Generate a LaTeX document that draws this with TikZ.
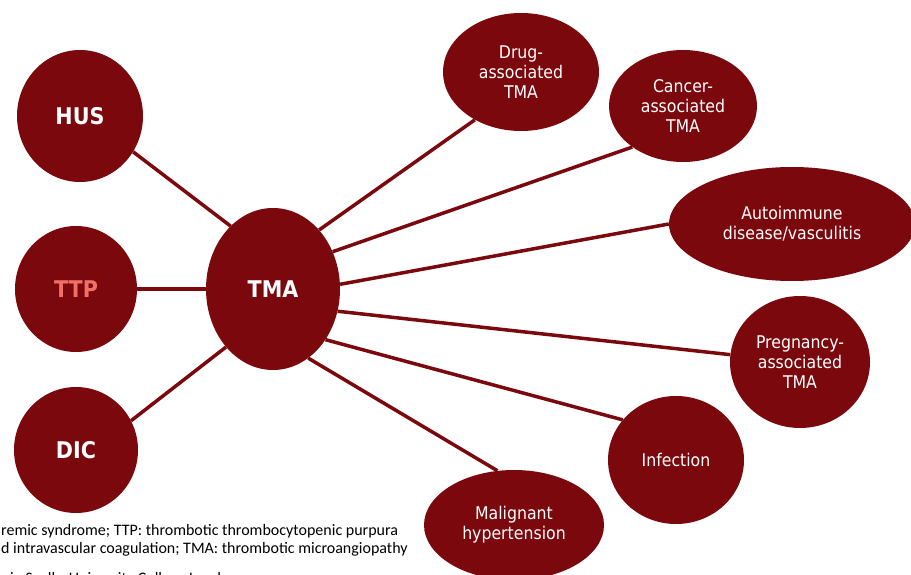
\documentclass[tikz,border=0pt]{standalone}
\usepackage{fontspec}
\setmainfont{DejaVu Sans Condensed}
\newfontfamily\notefont{Carlito}
\usetikzlibrary{shapes.geometric}
\definecolor{tmared}{RGB}{123,8,13}
\definecolor{ttpsalmon}{RGB}{240,112,104}
\begin{document}
\begin{tikzpicture}[x=1pt,y=-1pt,
  blob/.style={ellipse,fill=tmared,draw=none,inner sep=0pt,text=white,
    align=center,font=\fontsize{17.5}{20}\selectfont},
  bigblob/.style={blob,font=\bfseries\fontsize{23}{26}\selectfont},
  link/.style={draw=tmared,line width=3.5pt},
  note/.style={anchor=base west,inner sep=0pt,font=\notefont\fontsize{16}{18}\selectfont}]
\useasboundingbox (0,0) rectangle (911,575);
\clip (0,0) rectangle (911,575);

% hub and left-hand disorders
\node[bigblob,minimum width=134,minimum height=162] (tma) at (273,289) {TMA};
\node[bigblob,minimum width=126,minimum height=132] (hus) at (80,116) {HUS};
\node[bigblob,minimum width=122,minimum height=126,text=ttpsalmon] (ttp) at (76,289) {TTP};
\node[bigblob,minimum width=124,minimum height=126] (dic) at (76,450) {DIC};

% right-hand causes
\node[blob,minimum width=156,minimum height=118] (drug) at (521,72) {Drug-\\associated\\TMA};
\node[blob,minimum width=148,minimum height=112] (cancer) at (683,106) {Cancer-\\associated\\TMA};
\node[blob,minimum width=246,minimum height=114] (auto) at (792,224) {Autoimmune\\disease/vasculitis};
\node[blob,minimum width=140,minimum height=132] (preg) at (800,362) {Pregnancy-\\associated\\TMA};
\node[blob,minimum width=136,minimum height=128] (inf) at (676,460) {Infection};
\node[blob,minimum width=180,minimum height=110] (malig) at (514,525) {Malignant\\hypertension};

% connectors
\draw[link] (hus.-34) -- (tma.124);
\draw[link] (ttp.east) -- (tma.west);
\draw[link] (dic.28) -- (tma.231);
\draw[link] (tma.52) -- (drug.226);
\draw[link] (tma.32) -- (cancer.219);
\draw[link] (tma.4) -- (auto.180);
\draw[link] (tma.-19) -- (preg.174);
\draw[link] (tma.-44) -- (inf.143);
\draw[link] (tma.-63) -- (malig.107);

% abbreviation notes
\node[note] (n1) at (1,535) {remic syndrome; TTP: thrombotic thrombocytopenic purpura};
\node[note] (n2) at (1,553) {d intravascular coagulation; TMA: thrombotic microangiopathy};
\node[note] (n3) at (10,583) {ie Scully, University College London};
\end{tikzpicture}
\end{document}
